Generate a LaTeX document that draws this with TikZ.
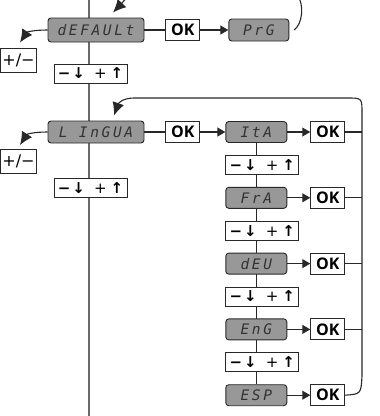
\documentclass[tikz,border=0pt]{standalone}
\usepackage{fontspec}
\setsansfont{Open Sans}
\newfontfamily\lcdfont[LetterSpace=18]{DejaVu Sans Mono}
\newfontfamily\symfont{DejaVu Sans}
\usetikzlibrary{positioning, arrows.meta, backgrounds}
\definecolor{Lcdgray}{RGB}{152,152,152}
\definecolor{Linegray}{RGB}{105,105,105}
\definecolor{Boxline}{RGB}{40,40,40}

\begin{document}
\begin{tikzpicture}[x=1pt, y=-1pt,
  lcd/.style={
    rectangle, rounded corners=3pt,
    draw=Boxline, line width=0.9pt, fill=Lcdgray,
    font=\lcdfont\itshape\fontsize{14.5}{14.5}\selectfont, text=black!80,
    minimum width=#1, minimum height=21pt, inner sep=0pt
  },
  okbox/.style={
    rectangle, draw=Boxline, line width=0.9pt, fill=white,
    font=\sffamily\bfseries\fontsize{16}{16}\selectfont,
    minimum width=34pt, minimum height=21pt, inner sep=0pt
  },
  keybox/.style={
    rectangle, draw=Boxline, line width=0.9pt, fill=white,
    font=\symfont\fontsize{15}{15}\selectfont,
    minimum width=73pt, minimum height=19pt, inner sep=0pt
  },
  pmbox/.style={
    rectangle, draw=Boxline, line width=0.9pt, fill=white,
    font=\symfont\fontsize{16}{16}\selectfont,
    minimum width=36pt, minimum height=24pt, inner sep=0pt
  },
  conn/.style={line width=1.1pt, draw=Boxline},
  okarr/.style={conn, -{Triangle[length=8pt, width=9pt]}},
  bigarr/.style={conn, -{Latex[length=13pt, width=12pt]}}
]
\newcommand{\keys}{{\bfseries −\hspace{2pt}↓}\hspace{9pt}+\hspace{4pt}{\bfseries ↑}}
\useasboundingbox (0,0) rectangle (380,416);
\clip (0,0) rectangle (380,416);

\coordinate (mtop) at (89,0);
\coordinate (mbot) at (89,416);
\coordinate (loopx) at (362,98);

% main column
\node[lcd=96pt, minimum height=24pt] (default) at (96,30) {dEFAULt};
\node[okbox, right=21pt of default] (okdef) {OK};
\node[lcd=60pt, minimum height=22pt, right=28pt of okdef] (prg) {PrG};
\node[pmbox] (pmdef) at (18.5,60) {+/−};
\node[keybox] (keydef) at (90.5,73.5) {\keys};

\node[lcd=96pt, minimum height=22pt] (lingua) at (96,132) {L InGUA};
\node[okbox, right=21pt of lingua] (oklin) {OK};
\node[pmbox] (pmlin) at (18.5,161.5) {+/−};
\node[keybox] (keylin) at (90.5,188) {\keys};

% language column
\node[lcd=61pt, right=25pt of oklin] (ita) {ItA};
\node[keybox, below=12pt of ita.south west, anchor=north west] (key1) {\keys};
\node[lcd=61pt, below=12pt of key1.south west, anchor=north west] (fra) {FrA};
\node[keybox, below=12pt of fra.south west, anchor=north west] (key2) {\keys};
\node[lcd=61pt, below=12pt of key2.south west, anchor=north west] (deu) {dEU};
\node[keybox, below=12pt of deu.south west, anchor=north west] (key3) {\keys};
\node[lcd=61pt, below=12pt of key3.south west, anchor=north west] (eng) {EnG};
\node[keybox, below=12pt of eng.south west, anchor=north west] (key4) {\keys};
\node[lcd=61pt, below=12pt of key4.south west, anchor=north west] (esp) {ESP};

\node[okbox, right=23pt of ita] (okita) {OK};
\node[okbox, right=23pt of fra] (okfra) {OK};
\node[okbox, right=23pt of deu] (okdeu) {OK};
\node[okbox, right=23pt of eng] (okeng) {OK};
\node[okbox, right=23pt of esp] (okesp) {OK};

\begin{scope}[on background layer]
  \draw[line width=1.4pt, Linegray] (mtop) -- (mbot);
  \draw[conn] (ita) -- (esp);
\end{scope}

\draw[conn] (default) -- (okdef);
\draw[okarr] (okdef) -- (prg);
\draw[conn] (lingua) -- (oklin);
\draw[okarr] (oklin) -- (ita);

\draw[okarr] (ita) -- (okita);
\draw[okarr] (fra) -- (okfra);
\draw[okarr] (deu) -- (okdeu);
\draw[okarr] (eng) -- (okeng);
\draw[okarr] (esp) -- (okesp);

\draw[conn] (okita.east) -- (okita.east -| loopx);
\draw[conn] (okfra.east) -- (okfra.east -| loopx);
\draw[conn] (okdeu.east) -- (okdeu.east -| loopx);
\draw[conn] (okeng.east) -- (okeng.east -| loopx);

% back loops
\draw[bigarr] (okesp.east) .. controls (361,394) .. (362,376) -- (362,113)
  .. controls (362,98) .. (347,98) -- (134,98)
  .. controls (122,98) and (118,104) .. ([xshift=18pt, yshift=5pt]lingua.north);
\draw[bigarr] ([xshift=5pt]prg.east) .. controls (302,24) and (305,6) .. (297,-6)
  .. controls (291,-15) and (281,-18) .. (265,-18) -- (150,-18)
  .. controls (138,-18) and (124,1) .. ([xshift=17pt, yshift=5pt]default.north);

\draw[bigarr] (default.west) .. controls (34,30) and (27,32) .. ([xshift=1.5pt, yshift=5pt]pmdef.north);
\draw[bigarr] (lingua.west) .. controls (34,132) and (27,134) .. ([xshift=1.5pt, yshift=4pt]pmlin.north);
\end{tikzpicture}
\end{document}
